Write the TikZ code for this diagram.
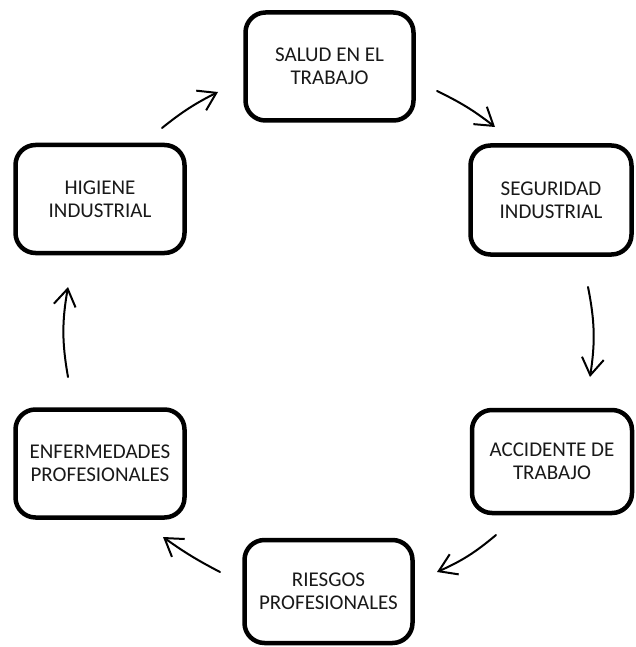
\documentclass[tikz,border=0pt]{standalone}
\usepackage{fontspec}
\setmainfont{Carlito}
\usetikzlibrary{arrows.meta}

\tikzset{
  stage/.style={draw=black, line width=4.5pt, rounded corners=20pt,
    fill=white, align=center, inner sep=0pt,
    font=\fontsize{21}{23}\selectfont, text=black!90},
  flow/.style={line width=2pt, line cap=round,
    -{Straight Barb[length=17pt, width=22pt, line width=2pt]}},
}

\begin{document}
\begin{tikzpicture}[x=1pt, y=-1pt]
  \useasboundingbox (0,0) rectangle (636,647);

  % the six stages of the cycle
  \node[stage, minimum width=168pt, minimum height=108pt] (salud)     at (329.5,66.5) {SALUD EN EL\\TRABAJO};
  \node[stage, minimum width=161pt, minimum height=109pt] (seguridad) at (551,200)    {SEGURIDAD\\INDUSTRIAL};
  \node[stage, minimum width=160pt, minimum height=103pt] (accidente) at (552,461.5)  {ACCIDENTE DE\\TRABAJO};
  \node[stage, minimum width=168pt, minimum height=103pt] (riesgos)   at (328.5,591.5){RIESGOS\\PROFESIONALES};
  \node[stage, minimum width=169pt, minimum height=108pt] (enferm)    at (100,463.5)  {ENFERMEDADES\\PROFESIONALES};
  \node[stage, minimum width=169pt, minimum height=108pt] (higiene)   at (100,199)    {HIGIENE\\INDUSTRIAL};

  % arrow end points between the boxes
  \coordinate (a1) at (437,91);  \coordinate (b1) at (495,127);
  \coordinate (a2) at (588,287); \coordinate (b2) at (590,377);
  \coordinate (a3) at (496,535); \coordinate (b3) at (437,572);
  \coordinate (a4) at (220,572); \coordinate (b4) at (163,537);
  \coordinate (a5) at (68,377);  \coordinate (b5) at (68,287);
  \coordinate (a6) at (162,128); \coordinate (b6) at (218,92);

  % clockwise flow
  \draw[flow] (a1) to[bend left=6]  (b1);
  \draw[flow] (a2) to[bend left=10] (b2);
  \draw[flow] (a3) to[bend left=8]  (b3);
  \draw[flow] (a4) to[bend left=4]  (b4);
  \draw[flow] (a5) to[bend left=10] (b5);
  \draw[flow] (a6) to[bend left=6]  (b6);
\end{tikzpicture}
\end{document}
